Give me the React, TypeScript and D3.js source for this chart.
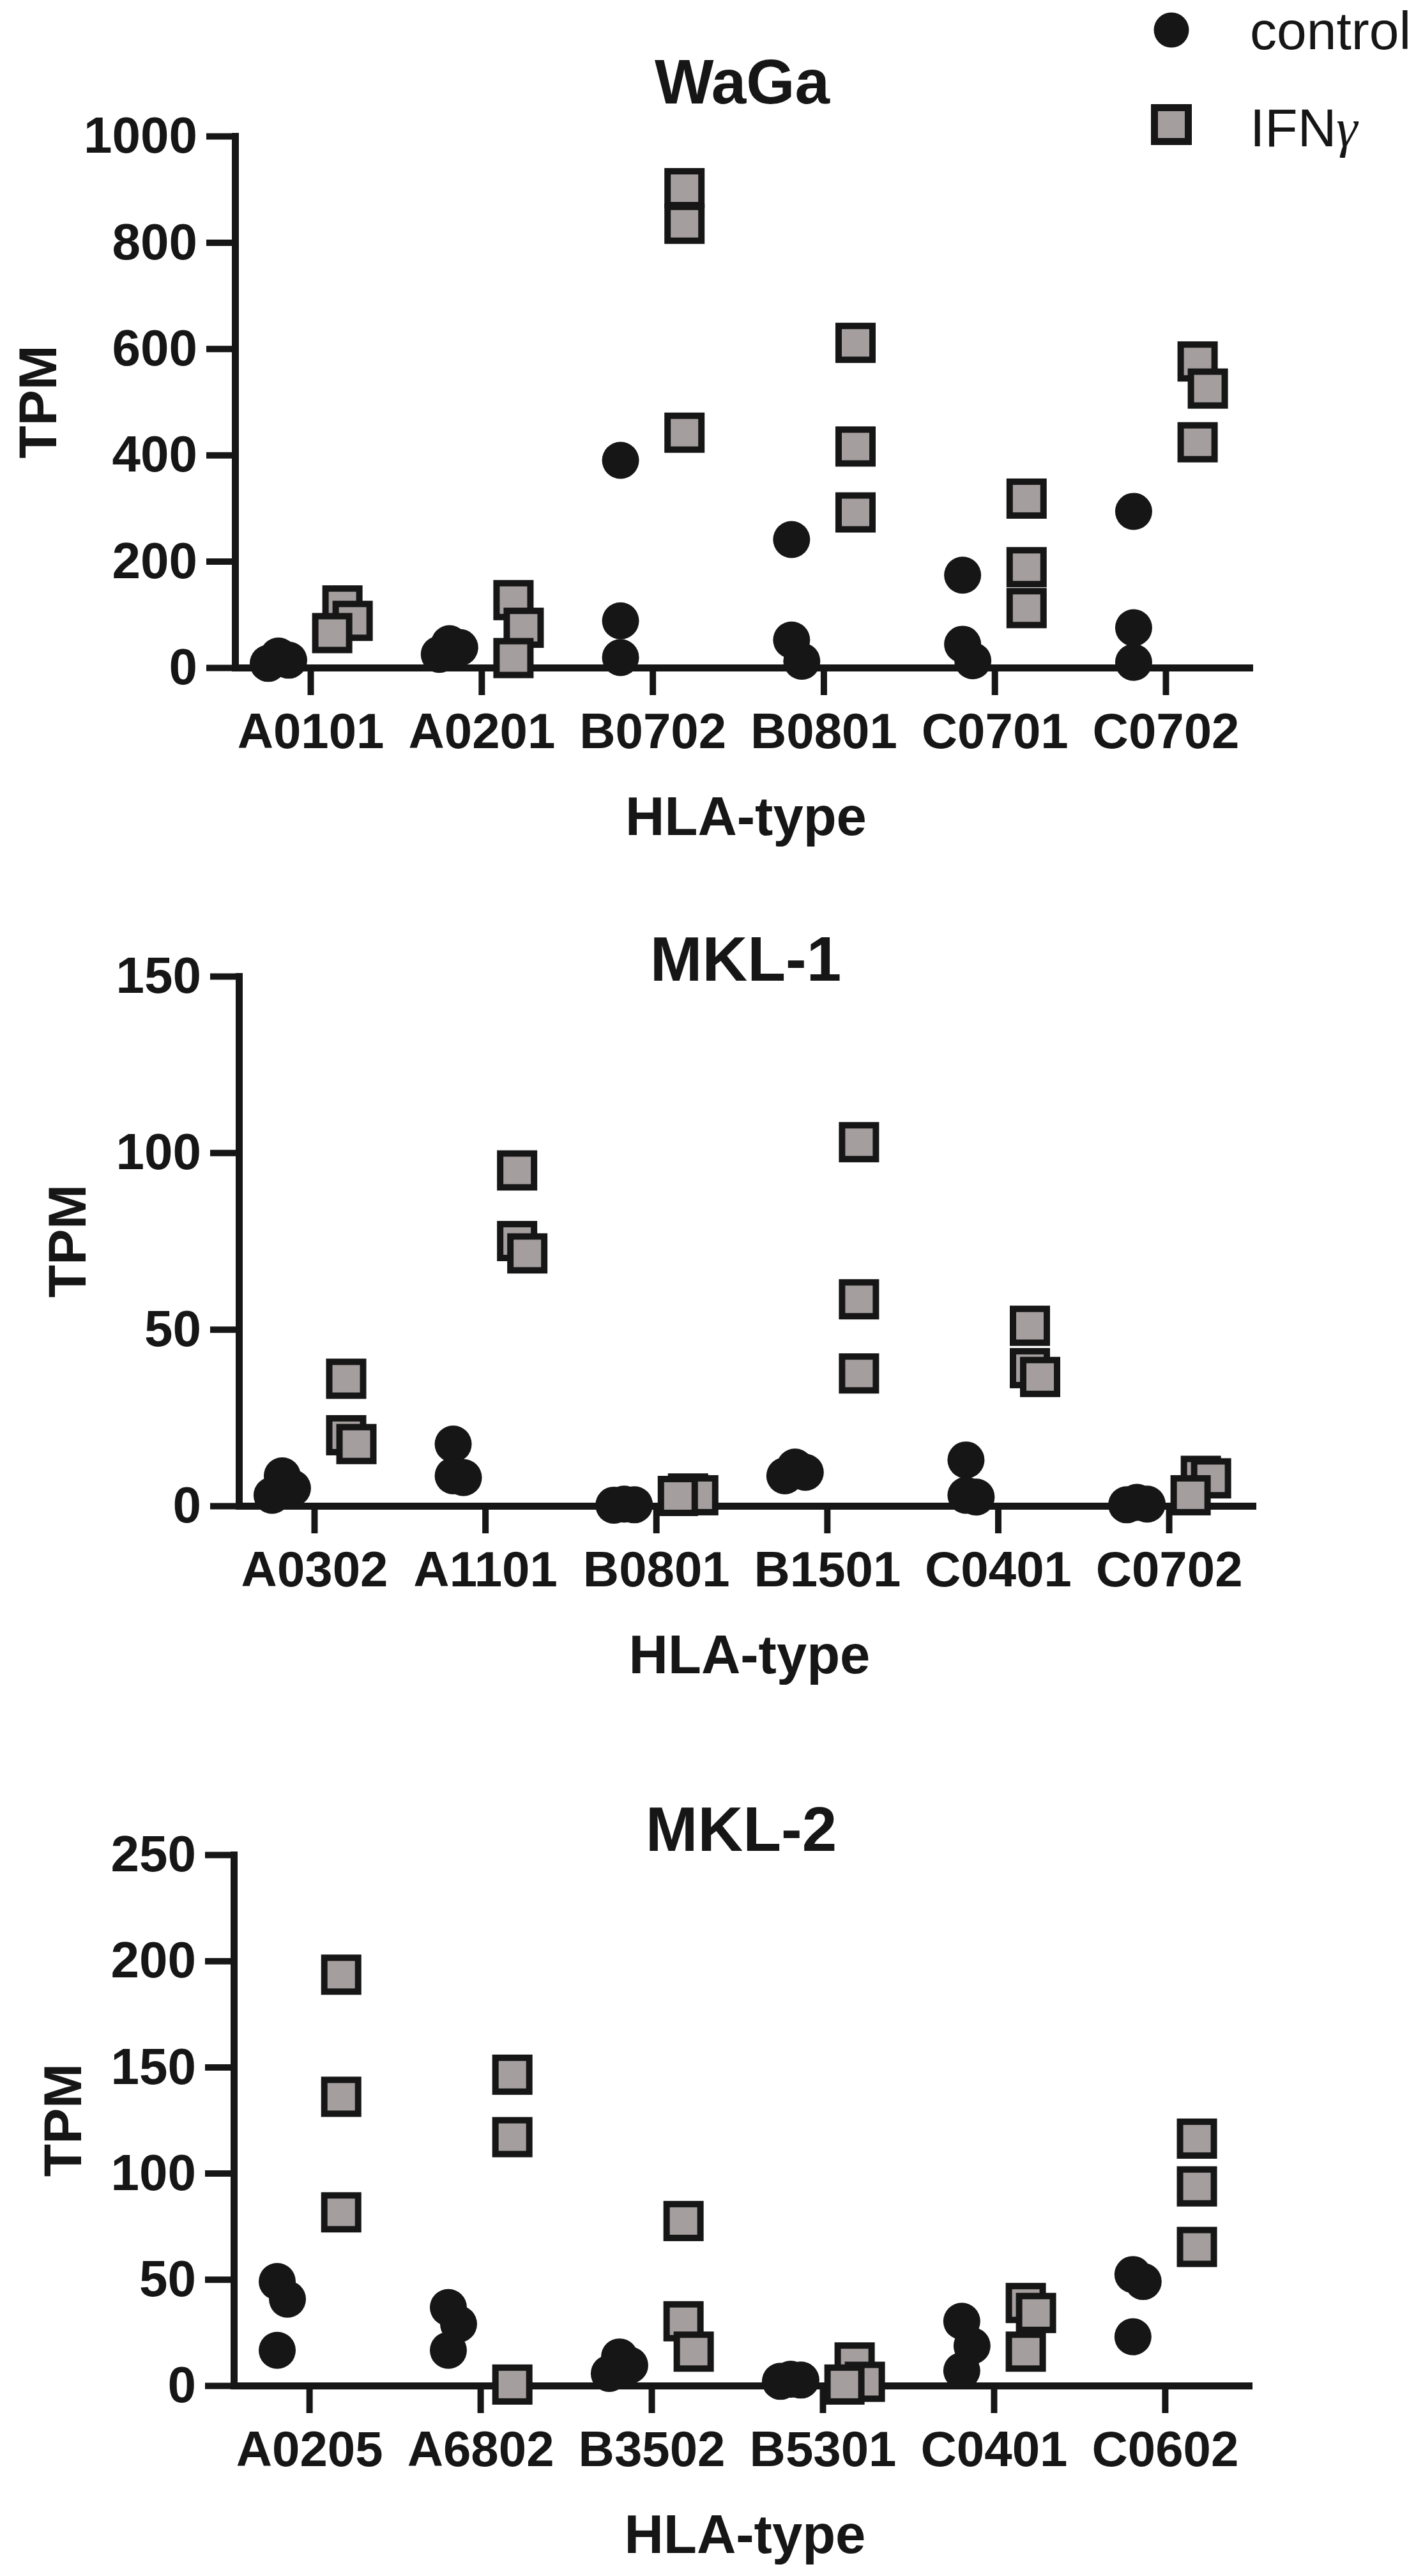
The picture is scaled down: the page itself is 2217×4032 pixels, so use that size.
import { useRef, useEffect } from 'react';
import * as d3 from 'd3';

// ---- data (TPM, three replicates per HLA allele) ----
const seriesNames = ['control', 'IFNγ'];

const wagaTitle = 'WaGa';
const wagaTypes = ['A0101', 'A0201', 'B0702', 'B0801', 'C0701', 'C0702'];
const wagaTicks = [0, 200, 400, 600, 800, 1000];
const wagaControl = [[22, 8, 14], [45, 25, 38], [390, 88, 19], [241, 52, 12], [174, 44, 13], [294, 75, 10]];
const wagaIfng = [[117, 88, 65], [127, 75, 18], [902, 835, 442], [611, 416, 292], [318, 189, 112], [576, 525, 424]];

const mkl1Title = 'MKL-1';
const mkl1Types = ['A0302', 'A1101', 'B0801', 'B1501', 'C0401', 'C0702'];
const mkl1Ticks = [0, 50, 100, 150];
const mkl1Control = [[8.5, 3, 5], [17.5, 8, 8.5], [0.3, 0.2, 0.5], [11, 8.5, 9.5], [13, 2.5, 3], [1, 0.5, 0.3]];
const mkl1Ifng = [[36, 20, 17.5], [95, 75, 71.5], [3.5, 3, 2.8], [103, 58.5, 37.5], [51, 39, 36.5], [8.5, 7.8, 3]];

const mkl2Title = 'MKL-2';
const mkl2Types = ['A0205', 'A6802', 'B3502', 'B5301', 'C0401', 'C0602'];
const mkl2Ticks = [0, 50, 100, 150, 200, 250];
const mkl2Control = [[49, 40.7, 16.6], [36.8, 29, 16.6], [13.5, 9.6, 5.7], [3, 2.6, 2], [30.3, 18.7, 7], [52.3, 49, 23]];
const mkl2Ifng = [[193.5, 136, 81.6], [146.4, 117, 0.5], [77.5, 30.3, 16], [10.9, 1.8, 0.5], [38.9, 34.2, 16], [116.3, 93.8, 65.3]];

const panels = [
  { title: wagaTitle, types: wagaTypes, ticks: wagaTicks, control: wagaControl, ifng: wagaIfng },
  { title: mkl1Title, types: mkl1Types, ticks: mkl1Ticks, control: mkl1Control, ifng: mkl1Ifng },
  { title: mkl2Title, types: mkl2Types, ticks: mkl2Ticks, control: mkl2Control, ifng: mkl2Ifng },
];

// ---- layout ----
const W = 2217;
const H = 4032;
const FONT = "'Liberation Sans', Arial, Helvetica, sans-serif";
const INK = '#161616';
const GREY = '#a59e9e';
const CIRCLE_R = 29;
const SQ = 53; // square side (stroke centred on it)
const SQ_STROKE = 10;

const frames = [
  { left: 368, right: 1956, top: 213, bottom: 1045, titleY: 162, yLabelX: 88 },
  { left: 374, right: 1961, top: 1528, bottom: 2357, titleY: 1535, yLabelX: 134 },
  { left: 366, right: 1955, top: 2903, bottom: 3734, titleY: 2897, yLabelX: 127 },
];

// small horizontal dodge for replicates that would sit on top of each other
function dodge(vals: number[], y: d3.ScaleLinear<number, number>, size: number) {
  const order = vals.map((v, i) => ({ i, py: y(v) })).sort((a, b) => a.py - b.py);
  const placed: { py: number; ox: number }[] = [];
  const out = vals.map(() => 0);
  const shifts = [0, 16, -16, 32, -32];
  order.forEach((o) => {
    const near = placed.filter((p) => Math.abs(p.py - o.py) < size * 0.85);
    const k = shifts.find((s) => near.every((p) => p.ox !== s)) ?? 0;
    out[o.i] = k;
    placed.push({ py: o.py, ox: k });
  });
  return out;
}

export default function App() {
  const svgRef = useRef<SVGSVGElement>(null);

  useEffect(() => {
    if (!svgRef.current) return;
    const svg = d3.select(svgRef.current);
    svg.selectAll('*').remove();

    panels.forEach((p, pi) => {
      const f = frames[pi];
      const x = d3.scalePoint<string>().domain(p.types).range([f.left, f.right]).padding(0.465).align(0.474);
      const y = d3.scaleLinear().domain([0, d3.max(p.ticks)!]).range([f.bottom, f.top]);
      const off = x.step() * 0.187;
      const g = svg.append('g');

      // y axis
      g.append('g')
        .attr('transform', `translate(${f.left},0)`)
        .call(d3.axisLeft(y).tickValues(p.ticks).tickFormat(d3.format('d')).tickSize(45).tickSizeOuter(0).tickPadding(14))
        .call((a) => {
          a.select('.domain').attr('stroke', INK).attr('stroke-width', 11).attr('stroke-linecap', 'square');
          a.selectAll('.tick line').attr('stroke', INK).attr('stroke-width', 10);
          a.selectAll('.tick text').attr('fill', INK).style('font', `bold 80px ${FONT}`);
        });

      // x axis
      g.append('g')
        .attr('transform', `translate(0,${f.bottom})`)
        .call(d3.axisBottom(x).tickSize(43).tickSizeOuter(0).tickPadding(28))
        .call((a) => {
          a.select('.domain').attr('stroke', INK).attr('stroke-width', 11).attr('stroke-linecap', 'square');
          a.selectAll('.tick line').attr('stroke', INK).attr('stroke-width', 10);
          a.selectAll('.tick text').attr('fill', INK).style('font', `bold 78px ${FONT}`);
        });

      // titles
      g.append('text')
        .attr('x', (f.left + f.right) / 2).attr('y', f.titleY)
        .attr('text-anchor', 'middle').attr('fill', INK)
        .style('font', `bold 98px ${FONT}`)
        .text(p.title);

      g.append('text')
        .attr('x', (f.left + f.right) / 2 + 6).attr('y', f.bottom + 262)
        .attr('text-anchor', 'middle').attr('fill', INK)
        .style('font', `bold 85px ${FONT}`)
        .text('HLA-type');

      g.append('text')
        .attr('transform', `translate(${f.yLabelX},${(f.top + f.bottom) / 2}) rotate(-90)`)
        .attr('text-anchor', 'middle').attr('fill', INK)
        .style('font', `bold 84px ${FONT}`)
        .text('TPM');

      // points
      p.types.forEach((t, i) => {
        const cx = x(t)!;
        const cOff = dodge(p.control[i], y, CIRCLE_R * 2);
        p.control[i].forEach((v, j) => {
          g.append('circle')
            .attr('cx', cx - off + cOff[j]).attr('cy', y(v))
            .attr('r', CIRCLE_R).attr('fill', INK);
        });
        const sOff = dodge(p.ifng[i], y, SQ + SQ_STROKE);
        p.ifng[i].forEach((v, j) => {
          g.append('rect')
            .attr('x', cx + off + sOff[j] - SQ / 2).attr('y', y(v) - SQ / 2)
            .attr('width', SQ).attr('height', SQ)
            .attr('fill', GREY).attr('stroke', INK).attr('stroke-width', SQ_STROKE);
        });
      });
    });

    // legend
    const lg = svg.append('g');
    lg.append('circle').attr('cx', 1834).attr('cy', 47).attr('r', 27.5).attr('fill', INK);
    lg.append('rect')
      .attr('x', 1834 - 26.5).attr('y', 195 - 26.5).attr('width', 53).attr('height', 53)
      .attr('fill', GREY).attr('stroke', INK).attr('stroke-width', 11);
    lg.append('text')
      .attr('x', 1957).attr('y', 77).attr('fill', INK)
      .style('font', `84px ${FONT}`)
      .text(seriesNames[0]);
    const ifn = lg.append('text')
      .attr('x', 1957).attr('y', 229).attr('fill', INK)
      .style('font', `84px ${FONT}`);
    ifn.append('tspan').text(seriesNames[1].slice(0, 3));
    ifn.append('tspan')
      .style('font', `italic 84px 'Liberation Serif', 'DejaVu Serif', serif`)
      .text(seriesNames[1].slice(3));
  }, []);

  return (
    <svg
      ref={svgRef}
      width={W}
      height={H}
      viewBox={`0 0 ${W} ${H}`}
      style={{ position: 'absolute', left: 0, top: 0, background: '#fff' }}
    />
  );
}
